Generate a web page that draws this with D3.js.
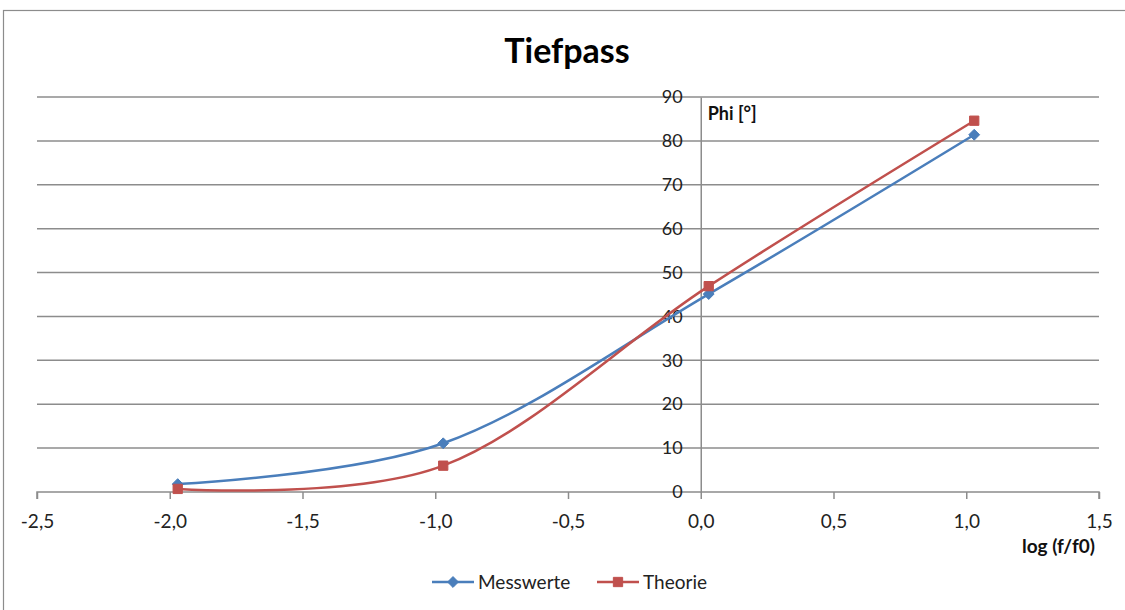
<!DOCTYPE html>
<html>
<head>
<meta charset="utf-8">
<script src="https://cdn.jsdelivr.net/npm/d3@7"></script>
<style>
  body { margin: 0; background: #fff; }
  svg { display: block; font-family: Lato, "Open Sans", sans-serif; }
</style>
</head>
<body>
<div id="chart"></div>
<script>
const width = 1125;
const height = 610;

// data
const logF = [-1.97, -0.97, 0.03, 1.03];
const messwerte = [1.8, 11.1, 45.1, 81.4];
const theorie = [0.7, 6.0, 46.9, 84.6];
const xTicks = [-2.5, -2.0, -1.5, -1.0, -0.5, 0.0, 0.5, 1.0, 1.5];
const yTicks = [0, 10, 20, 30, 40, 50, 60, 70, 80, 90];

const series = [
  { name: "Messwerte", values: messwerte, color: "#4a7ebb", marker: "diamond" },
  { name: "Theorie", values: theorie, color: "#c0504d", marker: "square" }
];

const svg = d3.select("#chart").append("svg")
  .attr("width", width)
  .attr("height", height);

// chart frame
svg.append("rect")
  .attr("x", 3.5).attr("y", 10.5)
  .attr("width", 1140).attr("height", 620)
  .attr("fill", "#fff")
  .attr("stroke", "#8c8c8c")
  .attr("stroke-width", 1.2);

const x = d3.scaleLinear().domain([-2.5, 1.5]).range([37, 1099]);
const y = d3.scaleLinear().domain([0, 90]).range([492, 97]);

// title
svg.append("text")
  .attr("x", 567).attr("y", 63)
  .attr("text-anchor", "middle")
  .attr("font-size", "34px")
  .attr("font-weight", "bold")
  .attr("fill", "#000")
  .text("Tiefpass");

// horizontal gridlines
svg.append("g")
  .selectAll("line")
  .data(yTicks.filter(d => d > 0))
  .join("line")
  .attr("x1", x(-2.5)).attr("x2", x(1.5))
  .attr("y1", d => y(d)).attr("y2", d => y(d))
  .attr("stroke", "#8c8c8c")
  .attr("stroke-width", 1.5);

// x axis
const xAxis = svg.append("g")
  .attr("transform", `translate(0,${y(0)})`)
  .call(d3.axisBottom(x)
    .tickValues(xTicks)
    .tickSize(7)
    .tickPadding(16)
    .tickFormat(d => d3.format(".1f")(d).replace(".", ",").replace("−", "-")));
xAxis.select(".domain").attr("stroke", "#8c8c8c").attr("stroke-width", 1.5)
  .attr("d", `M${x(-2.5)},7V0H${x(1.5)}V7`);
xAxis.selectAll(".tick line").attr("stroke", "#8c8c8c").attr("stroke-width", 1.5);
xAxis.selectAll(".tick text")
  .attr("font-family", "Lato, 'Open Sans', sans-serif")
  .attr("font-size", "19px")
  .attr("fill", "#222");

// y axis (at x = 0)
const yAxis = svg.append("g")
  .attr("transform", `translate(${x(0)},0)`)
  .call(d3.axisLeft(y)
    .tickValues(yTicks)
    .tickSize(0)
    .tickPadding(18));
yAxis.select(".domain").attr("stroke", "#8c8c8c").attr("stroke-width", 1.5);
yAxis.selectAll(".tick text")
  .attr("font-family", "Lato, 'Open Sans', sans-serif")
  .attr("font-size", "18px")
  .attr("fill", "#222");

// axis titles
svg.append("text")
  .attr("x", x(0) + 7).attr("y", 120)
  .attr("font-size", "18px")
  .attr("font-weight", "bold")
  .attr("fill", "#111")
  .text("Phi [°]");

svg.append("text")
  .attr("x", 1095).attr("y", 553)
  .attr("text-anchor", "end")
  .attr("font-size", "19px")
  .attr("font-weight", "bold")
  .attr("fill", "#111")
  .text("log (f/f0)");

// lines
const line = d3.line()
  .x((d, i) => x(logF[i]))
  .y(d => y(d))
  .curve(d3.curveCatmullRom.alpha(0));

const diamond = d3.symbol().type(d3.symbolDiamond2).size(75);
const square = d3.symbol().type(d3.symbolSquare2).size(110);

function drawMarker(g, type, color) {
  g.append("path")
    .attr("d", type === "diamond" ? diamond() : square())
    .attr("fill", color)
    .attr("stroke", color)
    .attr("stroke-width", 1);
}

series.forEach(s => {
  svg.append("path")
    .datum(s.values)
    .attr("fill", "none")
    .attr("stroke", s.color)
    .attr("stroke-width", 2.5)
    .attr("d", line);

  svg.append("g")
    .selectAll("g")
    .data(s.values)
    .join("g")
    .attr("transform", (d, i) => `translate(${x(logF[i])},${y(d)})`)
    .each(function() { drawMarker(d3.select(this), s.marker, s.color); });
});

// legend
const legendX = [432, 597];
const legend = svg.append("g");
series.forEach((s, i) => {
  const g = legend.append("g").attr("transform", `translate(${legendX[i]},582)`);
  g.append("line")
    .attr("x1", 0).attr("x2", 42)
    .attr("stroke", s.color)
    .attr("stroke-width", 2.5);
  const m = g.append("g").attr("transform", "translate(21,0)");
  drawMarker(m, s.marker, s.color);
  g.append("text")
    .attr("x", 46).attr("y", 7)
    .attr("font-size", "19px")
    .attr("fill", "#222")
    .text(s.name);
});
</script>
</body>
</html>
